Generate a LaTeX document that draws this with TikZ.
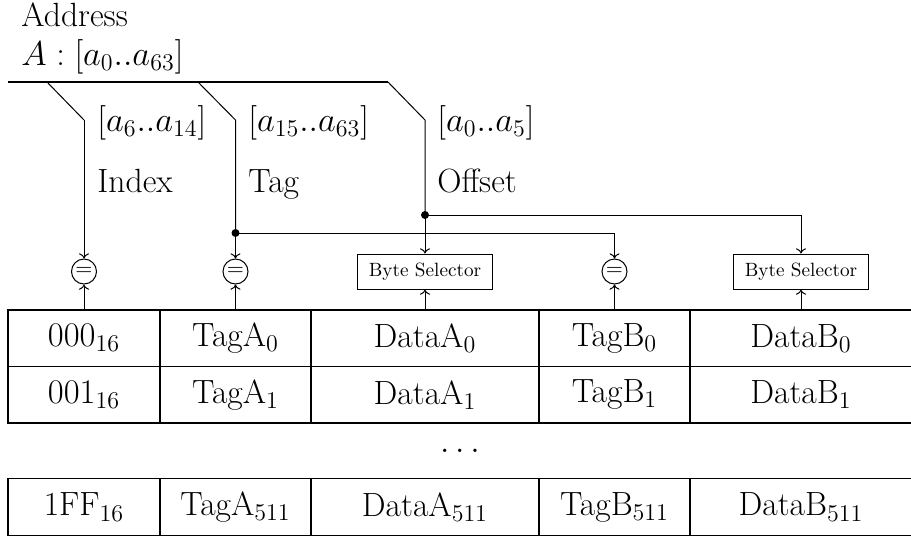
\documentclass[tikz,border=0pt]{standalone}
\usetikzlibrary{arrows.meta}
\begin{document}
\begin{tikzpicture}[x=0.5pt,y=-0.5pt,
  every node/.style={font=\fontsize{16.8}{19}\selectfont},
  txt/.style={anchor=base west, inner sep=0pt},
  cell/.style={draw, line width=0.6pt, inner sep=0pt, minimum height=28.25pt},
  eqnode/.style={draw, circle, minimum size=12.5pt, inner sep=0pt, line width=0.5pt,
                 font=\fontsize{10.5}{12}\selectfont},
  selbox/.style={draw, line width=0.5pt, minimum width=67.5pt, minimum height=17.5pt,
                 inner sep=0pt, font=\fontsize{9.6}{11}\selectfont},
  wire/.style={line width=0.5pt},
  feed/.style={wire, -{To[length=2.6pt,width=5pt]}},
  bus/.style={line width=1.2pt},
  joint/.style={circle, fill, inner sep=0pt, minimum size=4pt}]

\useasboundingbox (0,0) rectangle (911,537);

% address header
\node[txt] (addr) at (21,26.5) {Address};
\node[txt] (addrA) at (21,65.5) {$A:[a_0..a_{63}]$};

% address bus and its taps
\coordinate (busL) at (8,82);
\coordinate (busR) at (388,82);
\draw[bus] (busL) -- (busR);
\coordinate (t1) at (47,82);
\coordinate (t2) at (198,82);
\coordinate (k1) at (84,120);
\coordinate (k2) at (235.5,120);
\coordinate (k3) at (425,120);

% field labels
\node[txt] (f1) at (97,131.5) {$[a_6..a_{14}]$};
\node[txt] (n1) at (97,192.5) {Index};
\node[txt] (f2) at (248,131.5) {$[a_{15}..a_{63}]$};
\node[txt] (n2) at (248,192.5) {Tag};
\node[txt] (f3) at (437,131.5) {$[a_0..a_5]$};
\node[txt] (n3) at (437,192.5) {Offset};

% comparators and byte selectors
\node[eqnode] (e1) at (84,271.5) {$=$};
\node[eqnode] (e2) at (235.5,271.5) {$=$};
\node[selbox] (bs1) at (425,271.5) {Byte Selector};
\node[eqnode] (e4) at (614.5,271.5) {$=$};
\node[selbox] (bs2) at (801,271.5) {Byte Selector};

% junctions
\node[joint] (d2) at (235.5,233) {};
\node[joint] (d3) at (425,215) {};

% cache table
\node[cell, minimum width=76pt]   (c00) at (84,338.25)    {$000_{16}$};
\node[cell, minimum width=75.5pt] (c01) at (235.5,338.25) {TagA$_0$};
\node[cell, minimum width=114pt]  (c02) at (425,338.25)   {DataA$_0$};
\node[cell, minimum width=75.5pt] (c03) at (614.5,338.25) {TagB$_0$};
\node[cell, minimum width=111pt]  (c04) at (801,338.25)   {DataB$_0$};

\node[cell, minimum width=76pt]   (c10) at (84,394.75)    {$001_{16}$};
\node[cell, minimum width=75.5pt] (c11) at (235.5,394.75) {TagA$_1$};
\node[cell, minimum width=114pt]  (c12) at (425,394.75)   {DataA$_1$};
\node[cell, minimum width=75.5pt] (c13) at (614.5,394.75) {TagB$_1$};
\node[cell, minimum width=111pt]  (c14) at (801,394.75)   {DataB$_1$};

\node (gap) at (460,451) {$\dots$};

\node[cell, minimum width=76pt]   (c20) at (84,507)    {1FF$_{16}$};
\node[cell, minimum width=75.5pt] (c21) at (235.5,507) {TagA$_{511}$};
\node[cell, minimum width=114pt]  (c22) at (425,507)   {DataA$_{511}$};
\node[cell, minimum width=75.5pt] (c23) at (614.5,507) {TagB$_{511}$};
\node[cell, minimum width=111pt]  (c24) at (801,507)   {DataB$_{511}$};

% address fields down to the comparators
\draw[wire] (t1) -- (k1);
\draw[feed] (k1) -- (e1.north);
\draw[wire] (t2) -- (k2) -- (d2.center);
\draw[feed] (d2.center) -- (e2.north);
\draw[feed] (d2.center) -| (e4.north);
\draw[wire] (busR) -- (k3) -- (d3.center);
\draw[feed] (d3.center) -- (bs1.north);
\draw[feed] (d3.center) -| (bs2.north);

% table entries up to the comparators
\draw[feed] (c00.north) -- (e1.south);
\draw[feed] (c01.north) -- (e2.south);
\draw[feed] (c02.north) -- (bs1.south);
\draw[feed] (c03.north) -- (e4.south);
\draw[feed] (c04.north) -- (bs2.south);
\end{tikzpicture}
\end{document}
